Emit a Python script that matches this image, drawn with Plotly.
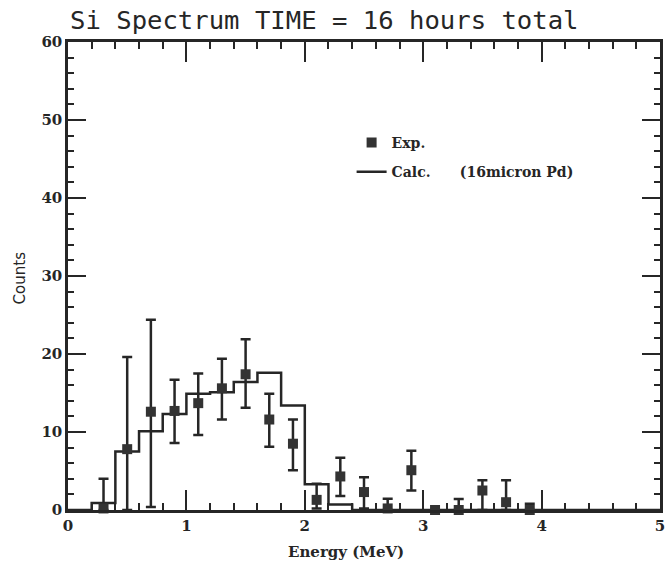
import plotly.graph_objects as go

# ---- data ----
exp_energy = [0.3, 0.5, 0.7, 0.9, 1.1, 1.3, 1.5, 1.7, 1.9, 2.1, 2.3, 2.5, 2.7, 2.9, 3.1, 3.3, 3.5, 3.7, 3.9]
exp_counts = [0.2, 7.8, 12.6, 12.7, 13.7, 15.6, 17.4, 11.6, 8.5, 1.3, 4.3, 2.3, 0.2, 5.1, 0.0, 0.0, 2.5, 1.0, 0.0]
err_plus = [3.8, 11.8, 11.8, 4.0, 3.8, 3.8, 4.5, 3.3, 3.1, 2.05, 2.4, 1.9, 1.25, 2.5, 0.0, 1.4, 1.3, 2.8, 0.8]
err_minus = [0.2, 7.8, 12.2, 4.1, 4.1, 4.0, 4.3, 3.5, 3.4, 1.1, 2.5, 2.1, 0.2, 2.6, 0.0, 0.0, 2.5, 1.0, 0.0]

calc_edges = [0.0, 0.2, 0.4, 0.6, 0.8, 1.0, 1.2, 1.4, 1.6, 1.8, 2.0, 2.2, 2.4, 5.0]
calc_counts = [0.0, 0.9, 7.5, 10.1, 12.3, 14.9, 15.1, 16.4, 17.6, 13.4, 3.3, 0.7, 0.0]

x_ticks = [0, 1, 2, 3, 4, 5]
y_ticks = [0, 10, 20, 30, 40, 50, 60]

title_text = "Si Spectrum TIME = 16 hours total"
x_label = "Energy (MeV)"
y_label = "Counts"
exp_name = "Exp."
calc_name = "Calc.\u00a0\u00a0\u00a0\u00a0\u00a0\u00a0(16micron Pd)"

INK = "#262626"

fig = go.Figure()

fig.add_trace(go.Scatter(
    x=calc_edges,
    y=calc_counts + [calc_counts[-1]],
    mode="lines",
    line=dict(shape="hv", color=INK, width=2.5),
    name=calc_name,
    legendgroup="b",
    legendrank=2,
    cliponaxis=False,
))

fig.add_trace(go.Scatter(
    x=exp_energy,
    y=exp_counts,
    mode="markers",
    marker=dict(symbol="square", size=10, color="#333333"),
    error_y=dict(type="data", symmetric=False, array=err_plus, arrayminus=err_minus,
                 color=INK, thickness=2.5, width=5),
    name=exp_name,
    legendgroup="a",
    legendrank=1,
    cliponaxis=False,
))

tick_font = dict(family="DejaVu Serif", size=15, color=INK, weight="bold")

fig.update_layout(
    width=670, height=563,
    margin=dict(l=68, r=5, t=42, b=53),
    paper_bgcolor="white",
    plot_bgcolor="white",
    title=dict(text=title_text, x=70 / 670, xanchor="left", xref="container",
               y=1 - 11 / 563, yanchor="top", yref="container",
               font=dict(family="DejaVu Sans Mono", size=25.6, color=INK)),
    showlegend=True,
    legend=dict(x=(354 - 68) / 597, y=(510 - 127) / 468, xanchor="left", yanchor="top",
                traceorder="grouped", tracegroupgap=8, itemwidth=30,
                bgcolor="rgba(0,0,0,0)",
                font=dict(family="DejaVu Serif", size=14, color=INK, weight="bold")),
    xaxis=dict(range=[0, 5], tickvals=x_ticks, ticks="inside", ticklen=20, tickwidth=2,
               tickcolor=INK, showline=True, linewidth=2.5, linecolor=INK, mirror="ticks",
               showgrid=False, zeroline=False, tickfont=tick_font,
               minor=dict(dtick=0.2, ticks="inside", ticklen=7, tickwidth=2, tickcolor=INK)),
    yaxis=dict(range=[0, 60], tickvals=y_ticks, ticks="inside", ticklen=18, tickwidth=2,
               tickcolor=INK, showline=True, linewidth=2.5, linecolor=INK, mirror="ticks",
               showgrid=False, zeroline=False, tickfont=tick_font,
               minor=dict(dtick=2, ticks="inside", ticklen=6, tickwidth=2, tickcolor=INK)),
    annotations=[
        dict(text=x_label, xref="paper", yref="paper", x=(348 - 68) / 597, y=-(552 - 510) / 468,
             xanchor="center", yanchor="middle", showarrow=False,
             font=dict(family="DejaVu Serif", size=15, color=INK, weight="bold")),
        dict(text=y_label, xref="paper", yref="paper", x=-(68 - 20) / 597, y=(510 - 278) / 468,
             xanchor="center", yanchor="middle", showarrow=False, textangle=-90,
             font=dict(family="DejaVu Sans", size=15, color=INK)),
    ],
)

fig.write_html("out.html")
